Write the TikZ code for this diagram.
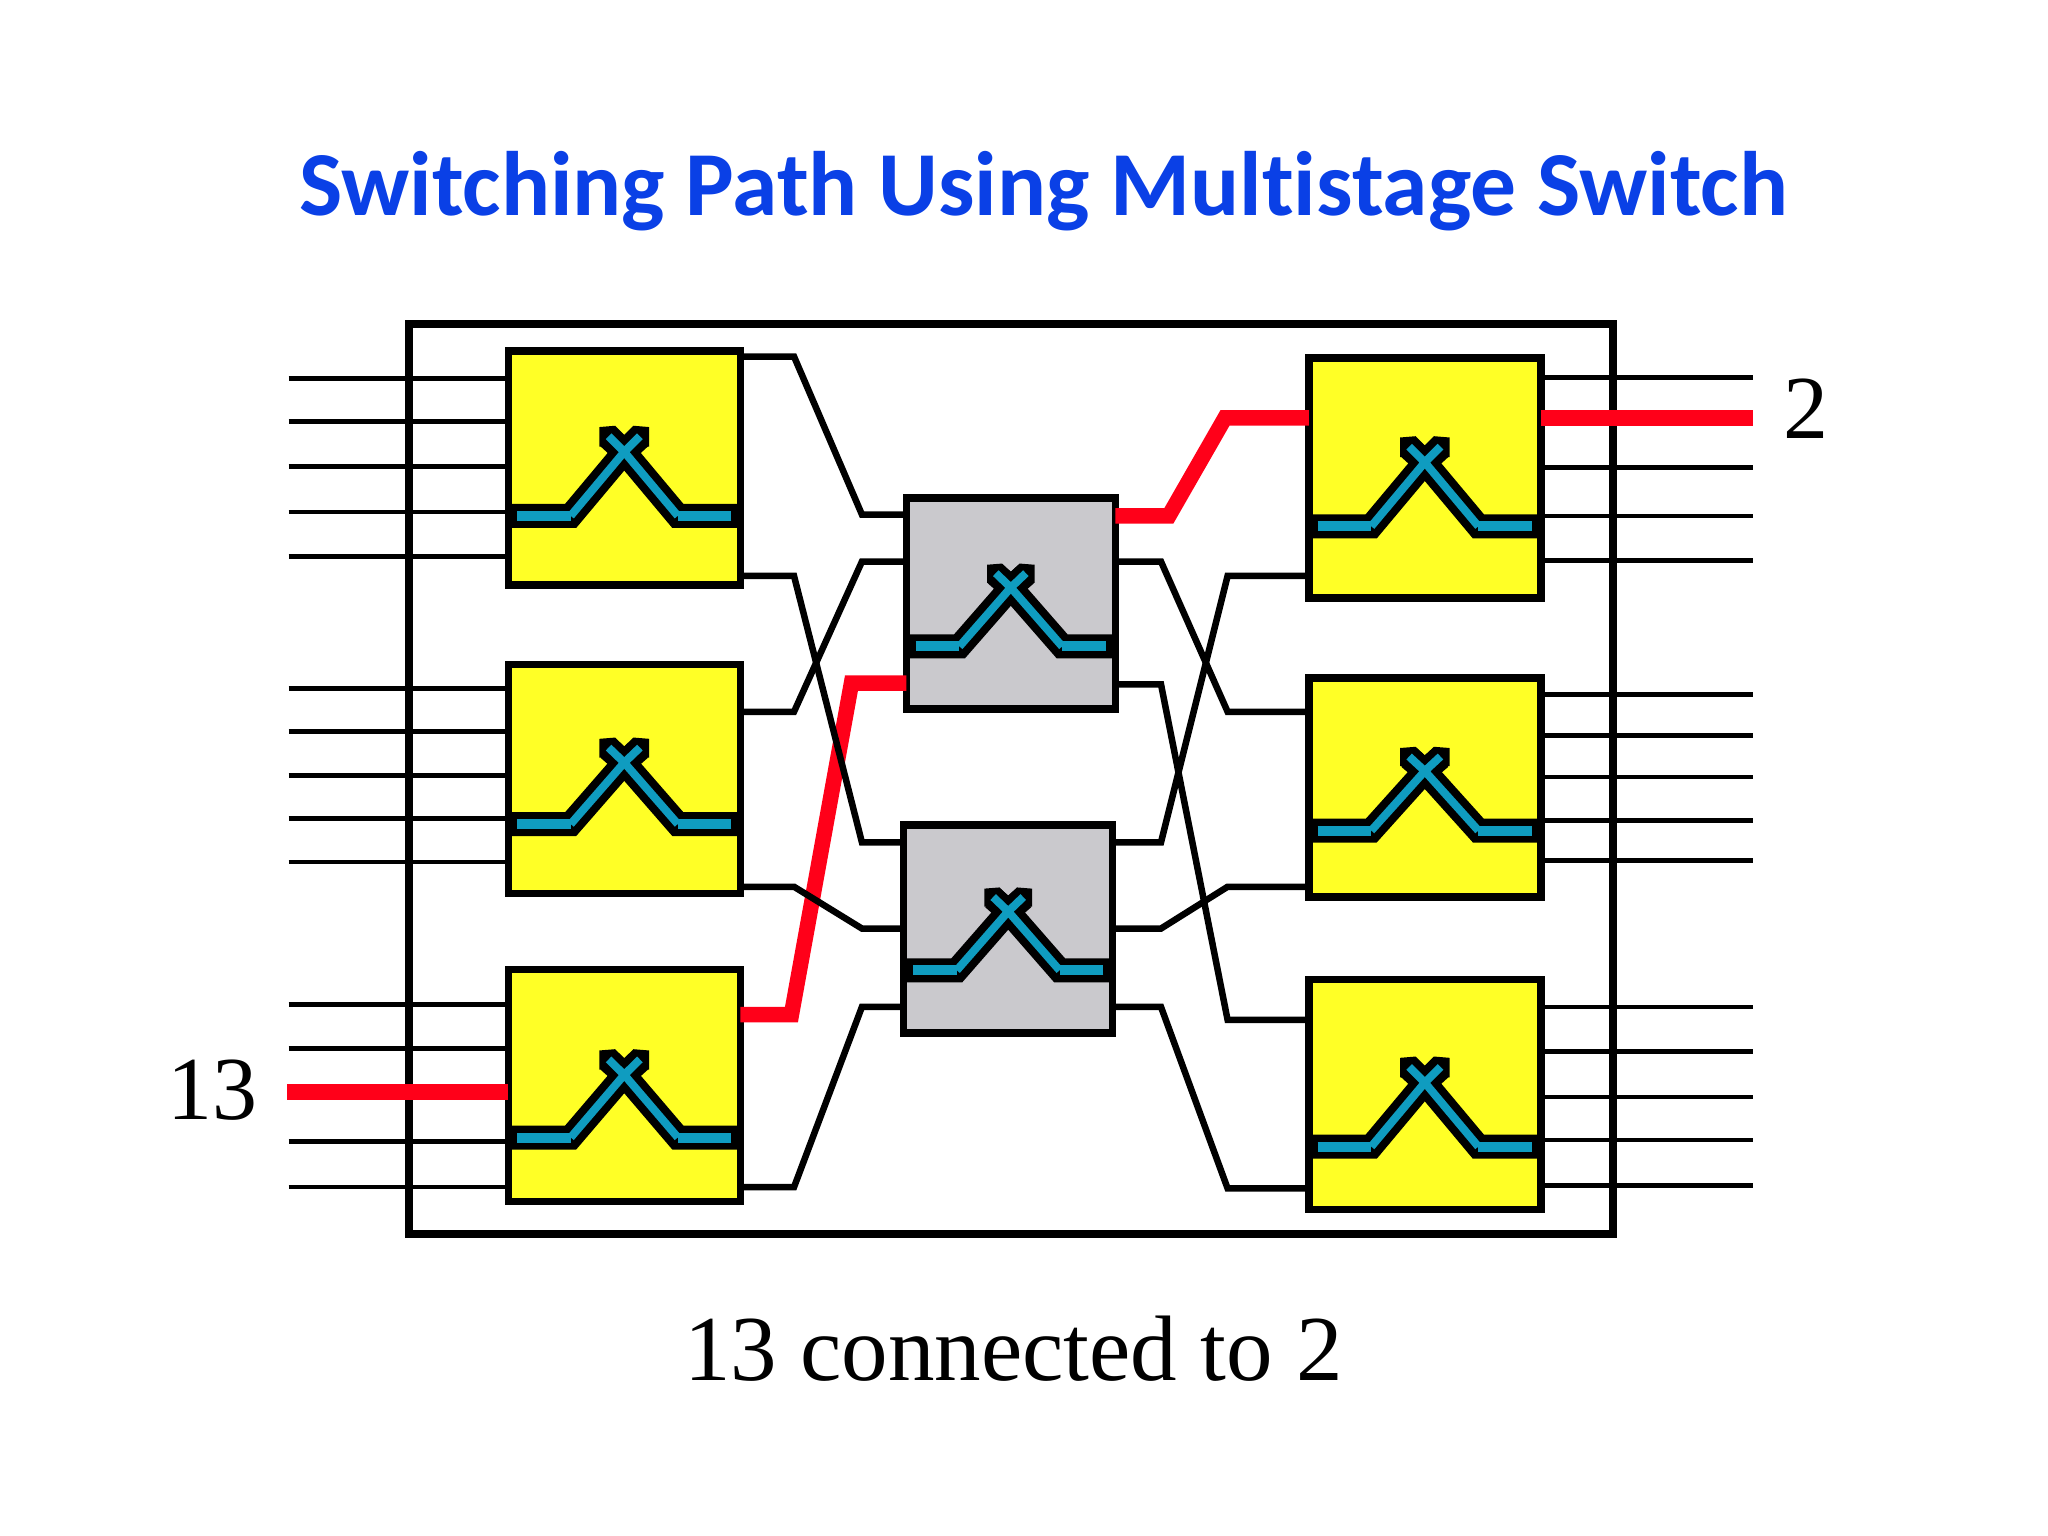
\documentclass[tikz,border=0pt]{standalone}
\usepackage{fontspec}
\setmainfont{Liberation Serif}
\newfontfamily\titlefont[Ligatures=CommonOff]{Carlito}
\definecolor{boxyellow}{HTML}{FFFF26}
\definecolor{boxgrey}{HTML}{CAC9CD}
\definecolor{swcyan}{HTML}{0F9CC0}
\definecolor{pathred}{HTML}{FF0019}
\definecolor{titleblue}{HTML}{0A40E6}
\begin{document}
\begin{tikzpicture}[
        x=1.306pt, y=-1.306pt,
        swbox/.style={draw=black, line width=7.5pt, inner sep=0pt, outer sep=0pt},
        ybox/.style={swbox, fill=boxyellow, minimum width=232pt},
        gbox/.style={swbox, fill=boxgrey, minimum width=209pt},
        wire/.style={draw=black, line width=4.7pt, line join=miter},
        link/.style={draw=black, line width=6.5pt, line join=miter},
        redpath/.style={draw=pathred, line width=15.5pt, line join=miter},
        gsw/.style={xscale=.96, yscale=.92},
        pics/xswitch/.style 2 args={code={
            \fill[black] (-19,-53) -- (-19,-68) -- (-7,-69) -- (0,-62) -- (7,-69) -- (19,-68) -- (19,-53) -- cycle;
            \draw[black, line width=24pt, line join=miter] (-#1,0) -- (-41,0) -- (0,-49) -- (12,-60);
            \draw[black, line width=24pt, line join=miter] (#1,0) -- (41,0) -- (0,-49) -- (-12,-60);
            \draw[swcyan, line width=10pt] (-#2,0) -- (-41,0);
            \draw[swcyan, line width=10pt] (#2,0) -- (41,0);
            \draw[swcyan, line width=8pt] (-41,0) -- (0,-49) -- (-12,-61);
            \draw[swcyan, line width=8pt] (41,0) -- (0,-49) -- (12,-61);
        }},
    ]
    \useasboundingbox (0,0) rectangle (1568.2,1176.1);
    \node[text=titleblue, font=\titlefont\bfseries\fontsize{91.5}{100}\selectfont] (title) at (799,146) {Switching Path Using Multistage Switch};
    \node[draw=black, line width=7.5pt, inner sep=0pt, outer sep=0pt, minimum width=1204pt, minimum height=910pt] (outer) at (774,596.5) {};

    \node[ybox, minimum height=234pt] (L1) at (478,358.5) {};
    \node[ybox, minimum height=229pt] (L2) at (478,596.5) {};
    \node[ybox, minimum height=232pt] (L3) at (478,831) {};
    \node[gbox, minimum height=211pt] (M1) at (774,462) {};
    \node[gbox, minimum height=208pt] (M2) at (772,711.5) {};
    \node[ybox, minimum height=240pt] (R1) at (1091,366) {};
    \node[ybox, minimum height=219pt] (R2) at (1091,603) {};
    \node[ybox, minimum height=230pt] (R3) at (1091,838) {};

    \pic at (478,395) {xswitch={88}{82}};
    \pic[yscale=.96] at (478,631) {xswitch={88}{82}};
    \pic[yscale=.98] at (478,871) {xswitch={88}{82}};
    \pic[gsw] at (774,495) {xswitch={82}{76}};
    \pic[gsw] at (772,743) {xswitch={82}{76}};
    \pic at (1091,403) {xswitch={88}{82}};
    \pic[yscale=.93] at (1091,636) {xswitch={88}{82}};
    \pic at (1091,878) {xswitch={88}{82}};

    \node[font=\fontsize{90}{100}\selectfont] (from) at (163,835) {13};
    \node[font=\fontsize{90}{100}\selectfont] (to) at (1383,313) {2};
    \node[font=\fontsize{93}{100}\selectfont] (caption) at (776,1033) {13 connected to 2};

    % inputs
    \foreach \y in {290,323,357,392,426} {\draw[wire] (221,\y) -- (L1.west |- 0,\y);}
    \foreach \y in {527,560,594,627,660} {\draw[wire] (221,\y) -- (L2.west |- 0,\y);}
    \foreach \y in {769,803,874,909} {\draw[wire] (221,\y) -- (L3.west |- 0,\y);}

    % outputs
    \foreach \y in {289,358,395,429} {\draw[wire] (R1.east |- 0,\y) -- (1342,\y);}
    \foreach \y in {532,563,595,628,659} {\draw[wire] (R2.east |- 0,\y) -- (1342,\y);}
    \foreach \y in {771,805,840,873,908} {\draw[wire] (R3.east |- 0,\y) -- (1342,\y);}

    % the 13 to 2 path
    \draw[redpath] (220,836) -- (L3.west |- 0,836);
    \draw[redpath] (L3.east |- 0,777) -- (606,777) -- (652,523) -- (M1.west |- 0,523);
    \draw[redpath] (M1.east |- 0,395) -- (895,395) -- (938,320) -- (R1.west |- 0,320);
    \draw[redpath] (R1.east |- 0,320) -- (1342,320);

    % first stage to middle
    \draw[link] (L1.east |- 0,273) -- (608,273) -- (660,394) -- (M1.west |- 0,394);
    \draw[link] (L1.east |- 0,441) -- (608,441) -- (660,645) -- (M2.west |- 0,645);
    \draw[link] (L2.east |- 0,545) -- (608,545) -- (660,430) -- (M1.west |- 0,430);
    \draw[link] (L2.east |- 0,679) -- (608,679) -- (660,711) -- (M2.west |- 0,711);
    \draw[link] (L3.east |- 0,909) -- (608,909) -- (660,771) -- (M2.west |- 0,771);

    % middle to last stage
    \draw[link] (M1.east |- 0,430) -- (889,430) -- (940,545) -- (R2.west |- 0,545);
    \draw[link] (M1.east |- 0,524) -- (889,524) -- (940,781) -- (R3.west |- 0,781);
    \draw[link] (M2.east |- 0,645) -- (889,645) -- (940,441) -- (R1.west |- 0,441);
    \draw[link] (M2.east |- 0,711) -- (889,711) -- (940,679) -- (R2.west |- 0,679);
    \draw[link] (M2.east |- 0,771) -- (889,771) -- (940,910) -- (R3.west |- 0,910);
\end{tikzpicture}
\end{document}
